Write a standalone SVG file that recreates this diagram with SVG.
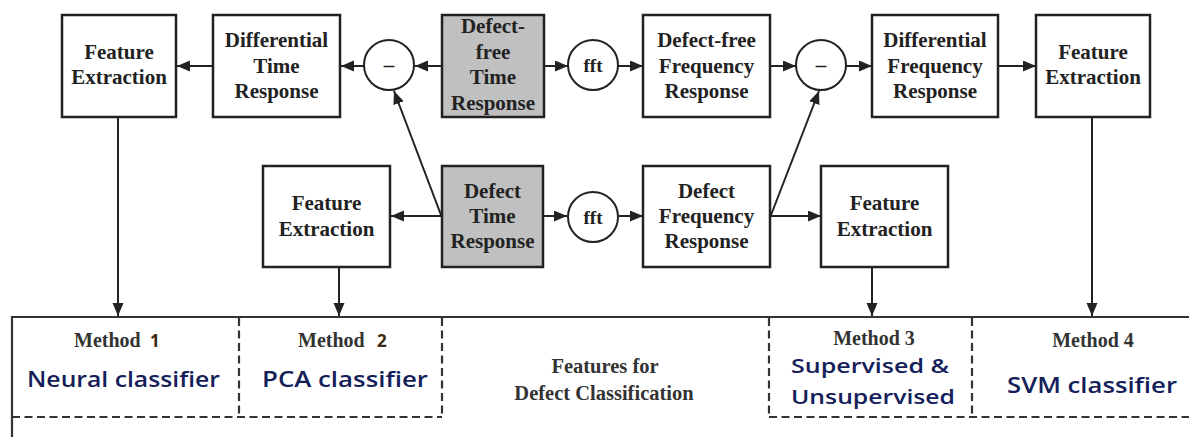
<svg xmlns="http://www.w3.org/2000/svg" width="1189" height="437" viewBox="0 0 1189 437">
<style>
.box{fill:#fff;stroke:#222;stroke-width:2.5}
.gray{fill:#c0c0c0}
.circ{fill:#fff;stroke:#222;stroke-width:2}
.t{font-family:"Liberation Serif",serif;font-weight:bold;font-size:21px;fill:#222;text-anchor:middle}
.c{stroke:#222;stroke-width:2;fill:none}
.cm{stroke:#222;stroke-width:2;fill:none;marker-end:url(#ah)}
.sol{stroke:#333;stroke-width:2.2;fill:none}
.dash{stroke:#333;stroke-width:2.2;fill:none;stroke-dasharray:8 4.5}
.m{font-family:"Liberation Serif",serif;font-weight:bold;font-size:20px;fill:#333}
.mc{text-anchor:middle}
.num{font-family:"Open Sans","Noto Sans",sans-serif;font-weight:bold;font-size:17px;fill:#3a2a10}
.blue{font-family:"Open Sans","Noto Sans",sans-serif;font-weight:600;font-size:22px;fill:#14205a}
.f{font-family:"Liberation Serif",serif;font-weight:bold;font-size:20.5px;fill:#333;text-anchor:middle}
</style>
<defs>
<marker id="ah" markerUnits="userSpaceOnUse" markerWidth="14" markerHeight="12" refX="13" refY="5.5" orient="auto">
<path d="M0,0 L13,5.5 L0,11 Z" fill="#222"/>
</marker>
</defs>

<g id="connectors">
<line class="cm" x1="442" y1="66" x2="415" y2="66"/>
<line class="cm" x1="364" y1="66" x2="341" y2="66"/>
<line class="cm" x1="213" y1="66" x2="177" y2="66"/>
<line class="cm" x1="544" y1="66" x2="568" y2="66"/>
<line class="cm" x1="618" y1="66" x2="643" y2="66"/>
<line class="cm" x1="770" y1="66" x2="796" y2="66"/>
<line class="cm" x1="846" y1="66" x2="872" y2="66"/>
<line class="cm" x1="998" y1="66" x2="1036" y2="66"/>
<line class="cm" x1="442" y1="216" x2="391" y2="216"/>
<line class="cm" x1="543" y1="216" x2="567" y2="216"/>
<line class="cm" x1="619" y1="216" x2="643" y2="216"/>
<line class="cm" x1="770" y1="216" x2="821" y2="216"/>
<line class="cm" x1="441" y1="215" x2="394" y2="91"/>
<line class="cm" x1="771" y1="215" x2="819" y2="91"/>
<line class="cm" x1="118" y1="117" x2="118" y2="316"/>
<line class="cm" x1="339" y1="267" x2="339" y2="316"/>
<line class="cm" x1="872" y1="267" x2="872" y2="316"/>
<line class="cm" x1="1092" y1="117" x2="1092" y2="316"/>
</g>

<g id="fe-top-left"><rect class="box" x="62" y="15" width="114" height="102"/>
<text class="t" x="119" y="59">Feature</text><text class="t" x="119" y="84">Extraction</text></g>
<g id="diff-time"><rect class="box" x="213" y="15" width="127" height="102"/>
<text class="t" x="276.5" y="47">Differential</text><text class="t" x="276.5" y="73">Time</text><text class="t" x="276.5" y="98">Response</text></g>
<g id="minus-1"><circle class="circ" cx="389" cy="65" r="25"/><text class="t" x="389" y="72">–</text></g>
<g id="defect-free-time"><rect class="box gray" x="442" y="15" width="102" height="102"/>
<text class="t" x="493" y="33">Defect-</text><text class="t" x="493" y="58.5">free</text><text class="t" x="493" y="84">Time</text><text class="t" x="493" y="109.5">Response</text></g>
<g id="fft-1"><circle class="circ" cx="593" cy="65" r="25"/><text class="t" x="593" y="72" style="font-size:19px">fft</text></g>
<g id="defect-free-freq"><rect class="box" x="643" y="15" width="127" height="102"/>
<text class="t" x="706.5" y="47">Defect-free</text><text class="t" x="706.5" y="72.5">Frequency</text><text class="t" x="706.5" y="98">Response</text></g>
<g id="minus-2"><circle class="circ" cx="821" cy="65" r="25"/><text class="t" x="821" y="72">–</text></g>
<g id="diff-freq"><rect class="box" x="872" y="15" width="126" height="102"/>
<text class="t" x="935" y="47">Differential</text><text class="t" x="935" y="73">Frequency</text><text class="t" x="935" y="98">Response</text></g>
<g id="fe-top-right"><rect class="box" x="1036" y="15" width="114" height="102"/>
<text class="t" x="1093" y="59">Feature</text><text class="t" x="1093" y="84">Extraction</text></g>

<g id="fe-low-left"><rect class="box" x="263" y="166" width="127" height="101"/>
<text class="t" x="326.5" y="210">Feature</text><text class="t" x="326.5" y="236">Extraction</text></g>
<g id="defect-time"><rect class="box gray" x="442" y="166" width="101" height="101"/>
<text class="t" x="492.5" y="198">Defect</text><text class="t" x="492.5" y="223">Time</text><text class="t" x="492.5" y="248">Response</text></g>
<g id="fft-2"><circle class="circ" cx="593" cy="217" r="25"/><text class="t" x="593" y="224" style="font-size:19px">fft</text></g>
<g id="defect-freq"><rect class="box" x="643" y="166" width="127" height="101"/>
<text class="t" x="706.5" y="198">Defect</text><text class="t" x="706.5" y="223">Frequency</text><text class="t" x="706.5" y="248">Response</text></g>
<g id="fe-low-right"><rect class="box" x="821" y="166" width="127" height="101"/>
<text class="t" x="884.5" y="210">Feature</text><text class="t" x="884.5" y="236">Extraction</text></g>

<g id="panel">
<line class="sol" x1="12" y1="317" x2="1189" y2="317"/>
<line class="sol" x1="12" y1="316" x2="12" y2="437"/>
<line class="dash" x1="12" y1="417" x2="442" y2="417"/>
<line class="dash" x1="769" y1="417" x2="1189" y2="417"/>
<line class="dash" x1="239" y1="318" x2="239" y2="417"/>
<line class="dash" x1="442" y1="318" x2="442" y2="417"/>
<line class="dash" x1="769" y1="318" x2="769" y2="417"/>
<line class="dash" x1="972" y1="318" x2="972" y2="417"/>
</g>

<g id="method-1"><text class="m" x="74" y="347">Method<tspan class="num" x="150">1</tspan></text>
<text class="blue" x="27" y="387" textLength="193" lengthAdjust="spacingAndGlyphs">Neural classifier</text></g>
<g id="method-2"><text class="m" x="298" y="347">Method<tspan class="num" x="377">2</tspan></text>
<text class="blue" x="262" y="387" textLength="166" lengthAdjust="spacingAndGlyphs">PCA classifier</text></g>
<g id="features"><text class="f" x="605" y="373">Features for</text><text class="f" x="604" y="400">Defect Classification</text></g>
<g id="method-3"><text class="m mc" x="874" y="345">Method 3</text>
<text class="blue" x="791" y="373" textLength="158" lengthAdjust="spacingAndGlyphs" style="font-size:20.5px">Supervised &amp;</text>
<text class="blue" x="791" y="404" textLength="164" lengthAdjust="spacingAndGlyphs" style="font-size:20.5px">Unsupervised</text></g>
<g id="method-4"><text class="m mc" x="1093" y="347">Method 4</text>
<text class="blue" x="1007" y="393" textLength="170" lengthAdjust="spacingAndGlyphs">SVM classifier</text></g>
</svg>
